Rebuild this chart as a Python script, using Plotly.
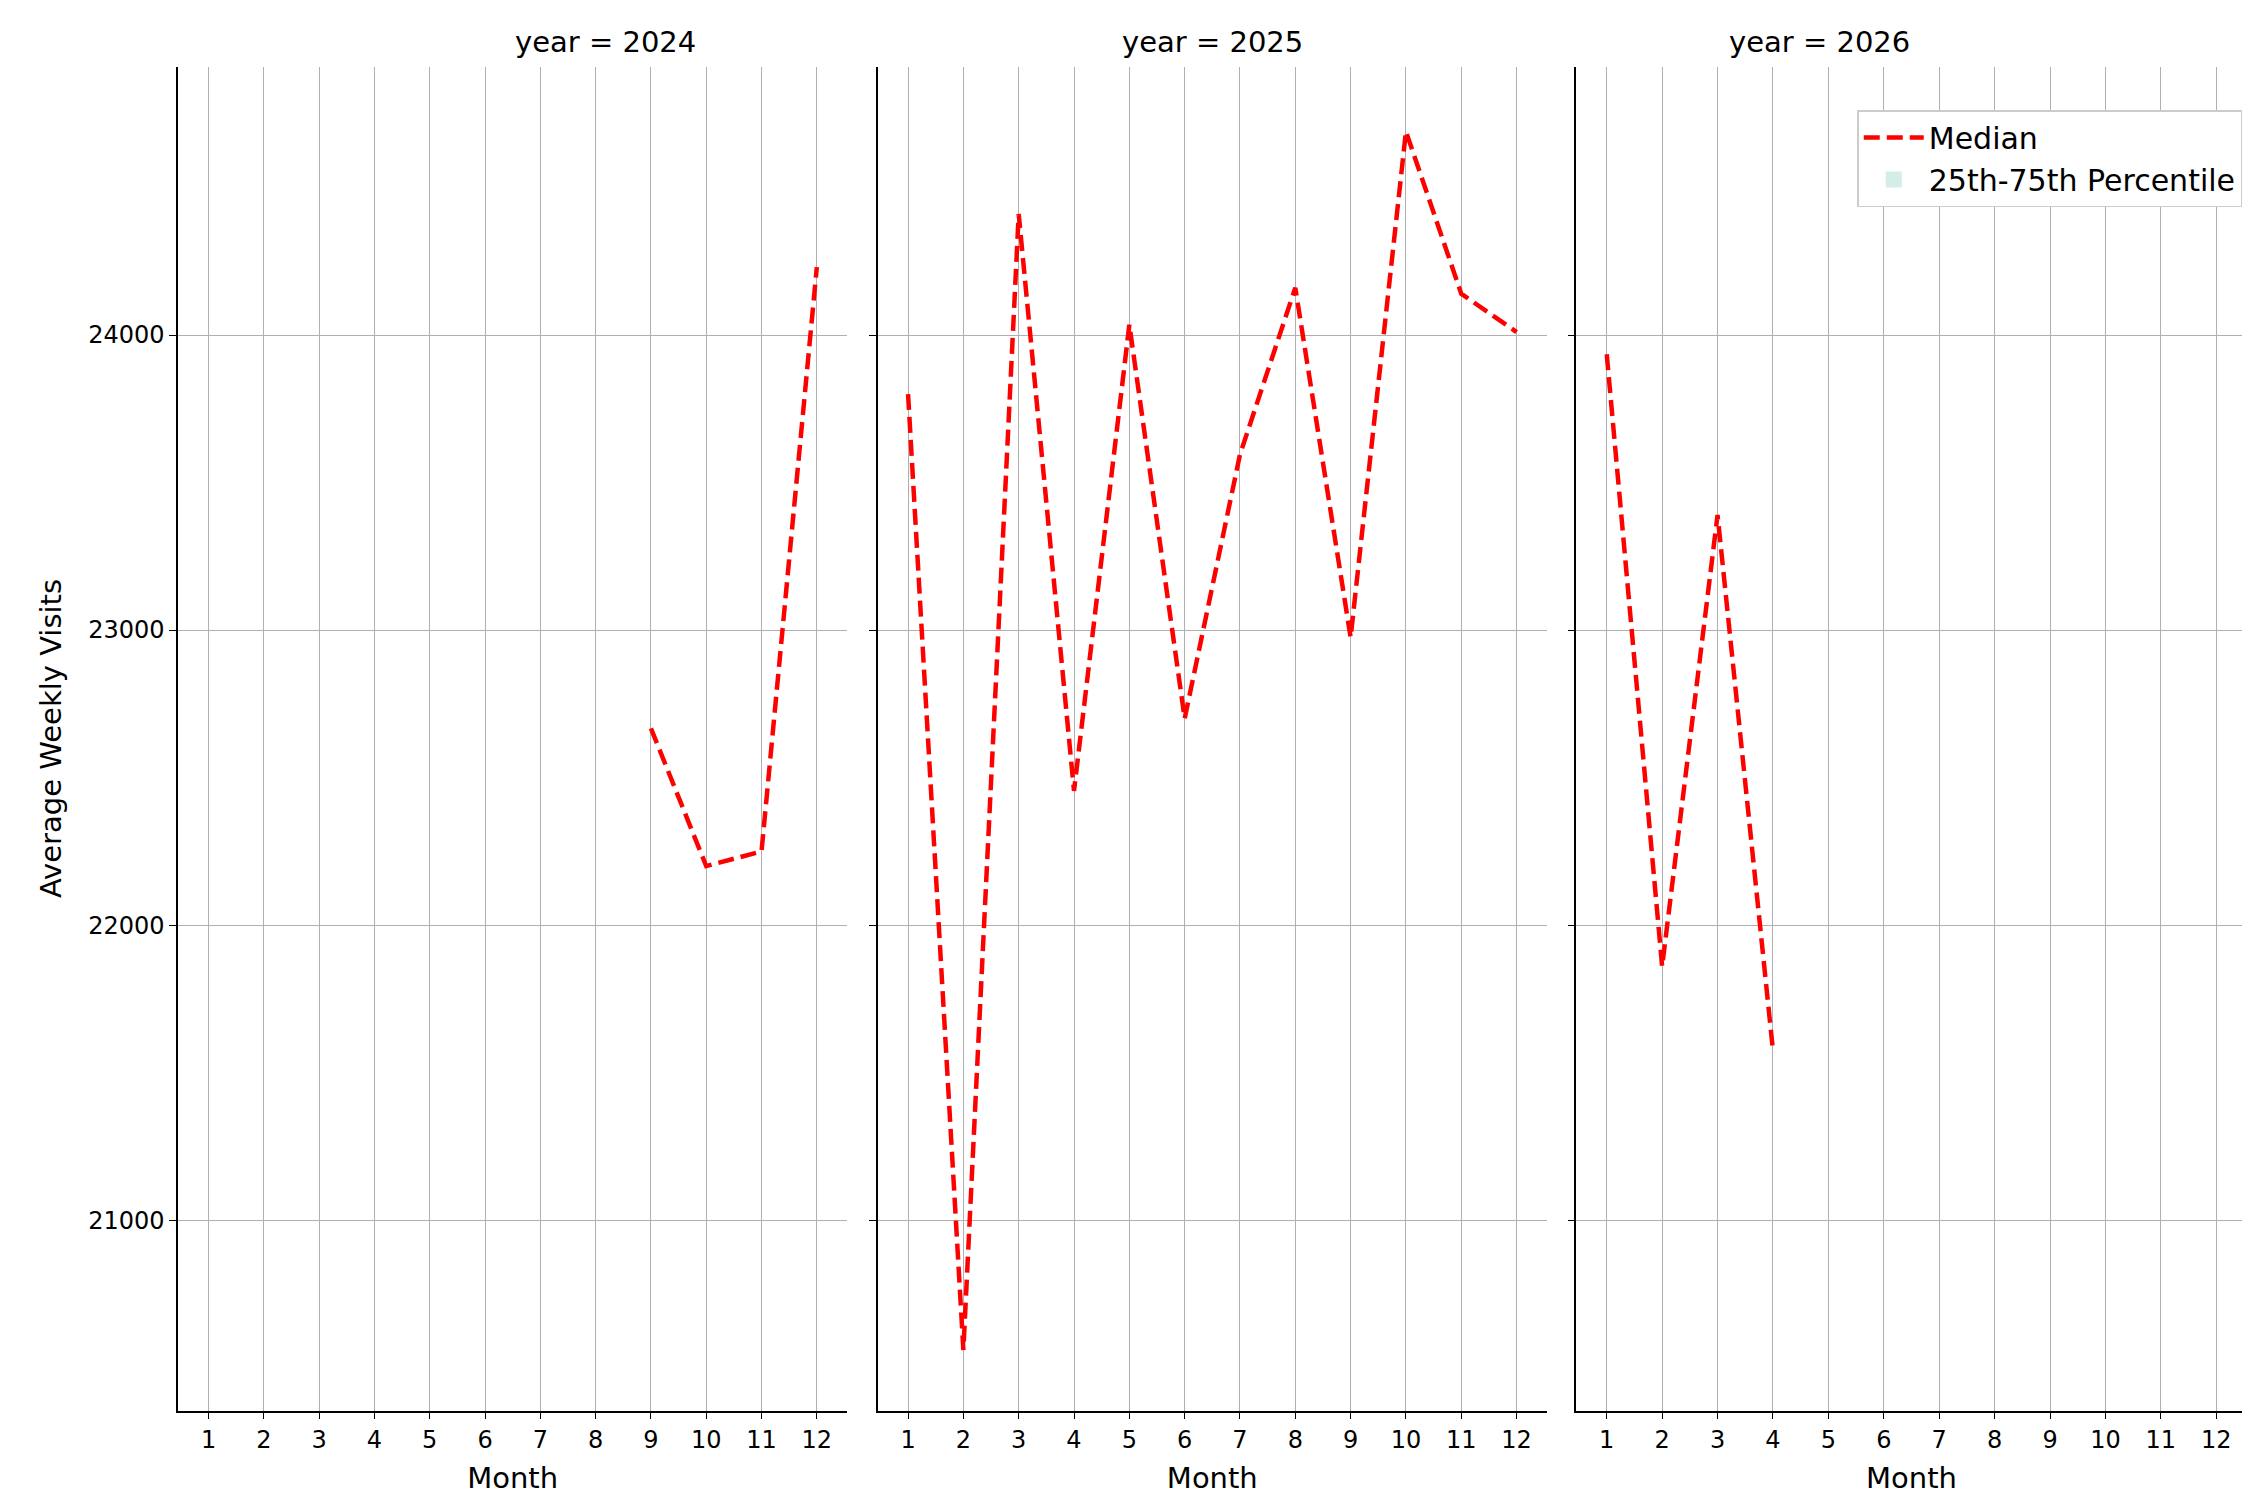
import plotly.graph_objects as go

months = list(range(1, 13))
years = [2024, 2025, 2026]
m2024 = [9, 10, 11, 12]
v2024 = [22667, 22200, 22250, 24230]
m2025 = months
v2025 = [23800, 20560, 24410, 22455, 24035, 22700, 23595, 24160, 22975, 24690, 24140, 24010]
m2026 = [1, 2, 3, 4]
v2026 = [23935, 21860, 23390, 21575]
yticks = [21000, 22000, 23000, 24000]

data = [(m2024, v2024), (m2025, v2025), (m2026, v2026)]
domains = [[0.0756, 0.373], [0.3865, 0.684], [0.697, 0.995]]
F = "DejaVu Sans"
fig = go.Figure()
for i, ((mx, vy), yr) in enumerate(zip(data, years)):
    ax = "" if i == 0 else str(i + 1)
    fig.add_trace(go.Scatter(x=mx, y=vy, mode="lines", name="Median",
                             line=dict(color="red", width=4.5, dash="16px,7px"),
                             xaxis="x" + ax, yaxis="y" + ax, showlegend=(i == 0)))
    common = dict(showline=True, linecolor="black", linewidth=1.5, mirror=False,
                  showgrid=True, gridcolor="#b0b0b0", gridwidth=1.3, zeroline=False,
                  ticks="outside", ticklen=7, tickcolor="black",
                  tickfont=dict(size=24, family=F, color="black"))
    fig.layout["xaxis" + ax] = dict(common, domain=domains[i], range=[0.45, 12.55],
                                    tickvals=months, anchor="y" + ax,
                                    title=dict(text="Month", font=dict(size=29, family=F)))
    fig.layout["yaxis" + ax] = dict(common, domain=[0.065, 0.961], range=[20355, 24910],
                                    tickvals=yticks, tickformat="d", anchor="x" + ax,
                                    showticklabels=(i == 0),
                                    title=dict(text="Average Weekly Visits" if i == 0 else "",
                                               font=dict(size=29, family=F), standoff=18))
    fig.add_annotation(text=f"year = {yr}", x=sum(domains[i]) / 2, y=0.965,
                       xref="paper", yref="paper", yanchor="bottom", showarrow=False,
                       font=dict(size=29, family=F, color="black"))
fig.add_trace(go.Scatter(x=[None], y=[None], mode="markers", name="25th-75th Percentile",
                         marker=dict(symbol="square", size=26, color="rgba(160,215,200,0.45)"),
                         xaxis="x3", yaxis="y3"))
fig.update_layout(width=2250, height=1500, plot_bgcolor="white", paper_bgcolor="white",
                  margin=dict(l=0, r=0, t=0, b=0),
                  font=dict(family=F, color="black"),
                  legend=dict(x=0.993, y=0.932, xanchor="right", yanchor="top",
                              bgcolor="white", bordercolor="#cccccc", borderwidth=1.5,
                              font=dict(size=30, family=F), itemwidth=60))
fig.write_html("out.html")
